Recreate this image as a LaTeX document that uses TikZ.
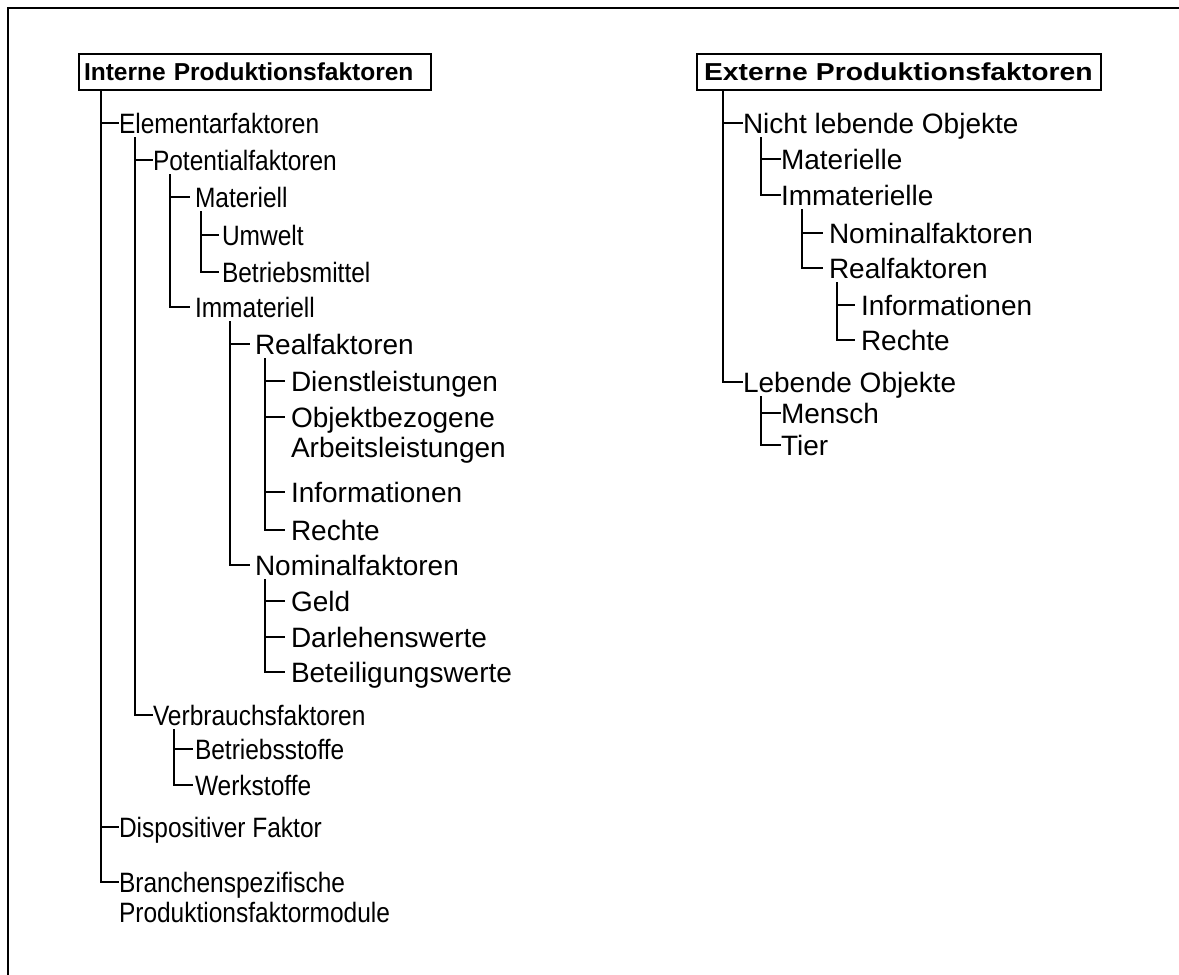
\documentclass[tikz,border=0pt]{standalone}
\usepackage{fontspec}
\setmainfont{Liberation Sans}
\newfontfamily\condfont[FakeStretch=0.875]{Liberation Sans}
\newfontfamily\widefont[FakeStretch=1.155]{Liberation Sans}
\begin{document}
\begin{tikzpicture}[x=1pt,y=-1pt, line width=2pt,
  every node/.style={font=\fontsize{28pt}{30.5pt}\selectfont, inner ysep=0pt, outer sep=0pt},
  cn/.style={font=\condfont\fontsize{28pt}{30.5pt}\selectfont},
  lbl/.style={anchor=west, inner xsep=0pt, text height=20pt, text depth=0pt},
  two/.style={anchor=north west, align=left, inner xsep=0pt},
  head/.style={draw, anchor=north west, minimum height=36pt, align=left,
    text height=17.5pt, text depth=0pt},
  conn/.style={line width=2pt}
]
\useasboundingbox (0,0) rectangle (1179,975);
% outer frame (only top and left edges visible)
\draw[line width=2pt] (8,975) -- (8,8) -- (1179,8);

% headers
\node[head, font=\fontsize{24.5pt}{30.5pt}\selectfont\bfseries, inner xsep=5pt, text width=342pt] (L) at (79,54) {Interne Produktionsfaktoren};
\node[head, font=\widefont\fontsize{24.5pt}{30.5pt}\selectfont\bfseries, inner xsep=7pt, text width=390pt] (R) at (697,54) {Externe Produktionsfaktoren};

% left tree
\node[lbl,cn] (elem) at (119,123) {Elementarfaktoren};
\node[lbl,cn] (disp) at (119,827) {Dispositiver Faktor};
\node[two,cn] (bran) at (119,872) {Branchenspezifische\\Produktionsfaktormodule};
\node[lbl,cn] (pot) at (153,160) {Potentialfaktoren};
\node[lbl,cn] (verb) at (153,715) {Verbrauchsfaktoren};
\node[lbl,cn, inner xsep=5pt] (mat) at (190,197) {Materiell};
\node[lbl,cn, inner xsep=5pt] (imm) at (190,307) {Immateriell};
\node[lbl,cn, inner xsep=3pt] (umw) at (219,235) {Umwelt};
\node[lbl,cn, inner xsep=3pt] (bmit) at (219,272) {Betriebsmittel};
\node[lbl, inner xsep=5pt] (real) at (250,344) {Realfaktoren};
\node[lbl, inner xsep=5pt] (nom) at (250,565) {Nominalfaktoren};
\node[lbl, inner xsep=6pt] (dienst) at (285,381) {Dienstleistungen};
\node[two, inner xsep=6pt] (obj) at (285,407) {Objektbezogene\\Arbeitsleistungen};
\node[lbl, inner xsep=6pt] (info) at (285,492) {Informationen};
\node[lbl, inner xsep=6pt] (recht) at (285,530) {Rechte};
\node[lbl, inner xsep=6pt] (geld) at (285,601) {Geld};
\node[lbl, inner xsep=6pt] (darl) at (285,637) {Darlehenswerte};
\node[lbl, inner xsep=6pt] (bet) at (285,672) {Beteiligungswerte};
\node[lbl,cn, inner xsep=2pt] (bstoff) at (193,749) {Betriebsstoffe};
\node[lbl,cn, inner xsep=2pt] (werk) at (193,785) {Werkstoffe};

% right tree
\node[lbl] (nicht) at (743,123) {Nicht lebende Objekte};
\node[lbl] (leb) at (743,382) {Lebende Objekte};
\node[lbl] (rmat) at (781,159) {Materielle};
\node[lbl] (rimm) at (781,195) {Immaterielle};
\node[lbl, inner xsep=6pt] (rnom) at (823,233) {Nominalfaktoren};
\node[lbl, inner xsep=6pt] (rreal) at (823,268) {Realfaktoren};
\node[lbl, inner xsep=6pt] (rinfo) at (855,305) {Informationen};
\node[lbl, inner xsep=6pt] (rrecht) at (855,340) {Rechte};
\node[lbl] (mensch) at (781,413) {Mensch};
\node[lbl] (tier) at (781,445) {Tier};

% connectors, left
\foreach \c in {elem,disp}
  \draw[conn] ([xshift=22pt]L.south west) |- (\c.west);
\draw[conn] ([xshift=22pt]L.south west) |- ([yshift=-10pt]bran.north west);
\foreach \c in {pot,verb}
  \draw[conn] ([xshift=16pt,yshift=-4pt]elem.south west) |- (\c.west);
\foreach \c in {mat,imm}
  \draw[conn] ([xshift=17pt,yshift=-4pt]pot.south west) |- (\c.west);
\foreach \c in {umw,bmit}
  \draw[conn] ([xshift=11pt,yshift=-4pt]mat.south west) |- (\c.west);
\foreach \c in {real,nom}
  \draw[conn] ([xshift=40pt,yshift=-4pt]imm.south west) |- (\c.west);
\foreach \c in {dienst,info,recht}
  \draw[conn] ([xshift=15pt,yshift=-4pt]real.south west) |- (\c.west);
\draw[conn] ([xshift=15pt,yshift=-4pt]real.south west) |- ([yshift=-10pt]obj.north west);
\foreach \c in {geld,darl,bet}
  \draw[conn] ([xshift=15pt,yshift=-4pt]nom.south west) |- (\c.west);
\foreach \c in {bstoff,werk}
  \draw[conn] ([xshift=21pt,yshift=-4pt]verb.south west) |- (\c.west);

% connectors, right
\foreach \c in {nicht,leb}
  \draw[conn] ([xshift=26pt]R.south west) |- (\c.west);
\foreach \c in {rmat,rimm}
  \draw[conn] ([xshift=18pt,yshift=-4pt]nicht.south west) |- (\c.west);
\foreach \c in {rnom,rreal}
  \draw[conn] ([xshift=21pt,yshift=-4pt]rimm.south west) |- (\c.west);
\foreach \c in {rinfo,rrecht}
  \draw[conn] ([xshift=14pt,yshift=-4pt]rreal.south west) |- (\c.west);
\foreach \c in {mensch,tier}
  \draw[conn] ([xshift=18pt,yshift=-4pt]leb.south west) |- (\c.west);
\end{tikzpicture}
\end{document}
